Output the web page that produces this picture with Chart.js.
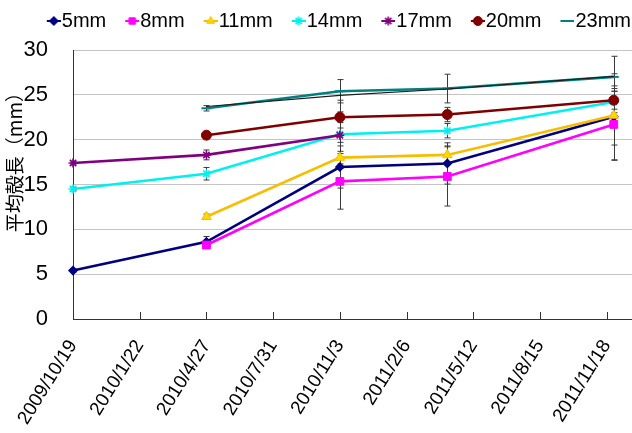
<!DOCTYPE html>
<html>
<head>
<meta charset="utf-8">
<script src="https://cdn.jsdelivr.net/npm/chart.js@4/dist/chart.umd.min.js"></script>
<style>
  html, body { margin: 0; padding: 0; background: #fff; }
  #c { display: block; }
</style>
</head>
<body>
<canvas id="c" width="632" height="433"></canvas>
<script>
// Sampling dates and mean shell length (mm) for each size class
const sampleDates = ['2009/10/19', '2010/4/27', '2010/11/3', '2011/4/5', '2011/11/28'];
const seriesNames = ['5mm', '8mm', '11mm', '14mm', '17mm', '20mm', '23mm'];

const len5mm  = [5.4,  8.6,  16.95, 17.35, 22.55];
const len8mm  = [null, 8.25, 15.35, 15.9,  21.7];
const len11mm = [null, 11.4, 18.0,  18.3,  22.7];
const len14mm = [14.5, 16.2, 20.6,  21.0,  24.2];
const len17mm = [17.4, 18.3, 20.5,  null,  null];
const len20mm = [null, 20.5, 22.5,  22.8,  24.4];
const len23mm = [null, 23.5, 25.4,  25.7,  27.0];
const len23mmTrace = [null, 23.7, 24.95, 25.65, 27.05];

// Standard deviations (half length of the error bars)
const sd5mm  = [0.2,  0.6, 2.35, 2.3, 4.8];
const sd8mm  = [null, 0.4, 3.1,  3.3, 4.0];
const sd11mm = [null, 0.3, 0.7,  1.0, 3.3];
const sd14mm = [0.2,  0.7, 3.8,  0.8, 1.2];
const sd17mm = [0.2,  0.55, 0.8, null, null];
const sd20mm = [null, 0.3, 0.6,  0.8, 1.0];
const sd23mm = [null, 0.3, 1.3,  1.6, 2.3];

// Axis ticks
const xTickLabels = ['2009/10/19', '2010/1/22', '2010/4/27', '2010/7/31', '2010/11/3',
                     '2011/2/6', '2011/5/12', '2011/8/15', '2011/11/18'];
const xAxisEnd = '2011/12/24';
const yTicks = [0, 5, 10, 15, 20, 25, 30];
const yTitle = '平均殻長（mm）';

const DAY = 86400000;
const ORIGIN = (() => { const [y, m, d] = xTickLabels[0].split('/').map(Number); return Date.UTC(y, m - 1, d); })();
function toDays(s) {
  const [y, m, d] = s.split('/').map(Number);
  return Math.round((Date.UTC(y, m - 1, d) - ORIGIN) / DAY);
}
function fmtDays(v) {
  const dt = new Date(ORIGIN + v * DAY);
  return dt.getUTCFullYear() + '/' + (dt.getUTCMonth() + 1) + '/' + dt.getUTCDate();
}
const sampleDays = sampleDates.map(toDays);
function toPoints(vals) {
  return vals.map((v, i) => ({ x: sampleDays[i], y: v }));
}

const lengths = [len5mm, len8mm, len11mm, len14mm, len17mm, len20mm, len23mm];
const sds = [sd5mm, sd8mm, sd11mm, sd14mm, sd17mm, sd20mm, sd23mm];

const styles = [
  { line: '#000080', fill: '#000080', point: 'rectRot',  r: 4,   bw: 1.5 },
  { line: '#FF00FF', fill: '#FF00FF', point: 'rect',     r: 5.5, bw: 1 },
  { line: '#F6BE00', fill: '#FFD800', point: 'triangle', r: 5.5, bw: 1 },
  { line: '#00F0F0', fill: '#00F0F0', point: 'star',     r: 4.5, bw: 1.6 },
  { line: '#800080', fill: '#800080', point: 'star',     r: 4.5, bw: 1.6 },
  { line: '#800000', fill: '#800000', point: 'circle',   r: 5,   bw: 1 },
  { line: '#008080', fill: '#008080', point: 'line',     r: 5,   bw: 2 }
];

const datasets = seriesNames.map((name, i) => ({
  label: name,
  data: toPoints(lengths[i]),
  sd: sds[i],
  borderColor: styles[i].line,
  backgroundColor: styles[i].fill,
  pointBackgroundColor: styles[i].fill,
  pointBorderColor: styles[i].line,
  pointStyle: styles[i].point,
  pointRadius: styles[i].r,
  pointBorderWidth: styles[i].bw,
  borderWidth: 2.6,
  tension: 0,
  clip: false,
  order: 10 - i
}));
datasets.push({
  label: '',
  data: toPoints(len23mmTrace),
  borderColor: '#1a1a1a',
  borderWidth: 1.2,
  pointRadius: 0,
  tension: 0,
  clip: false,
  order: 0
});

// Legend icon: a short line with the series marker on it, at the right end of the image
function legendIcon(st) {
  const c = document.createElement('canvas');
  c.width = 31; c.height = 16;
  const g = c.getContext('2d');
  g.strokeStyle = st.line;
  g.lineWidth = 2;
  g.beginPath(); g.moveTo(17, 8); g.lineTo(31, 8); g.stroke();
  g.fillStyle = st.fill;
  g.strokeStyle = st.line;
  g.lineWidth = st.bw;
  Chart.helpers.drawPoint(g, { pointStyle: st.point, radius: Math.min(st.r, 4.5), borderWidth: st.bw, rotation: 0 }, 24, 8);
  return c;
}
const icons = styles.map(legendIcon);

// Error bars drawn from the scales
const errorBars = {
  id: 'errorBars',
  beforeDatasetsDraw(chart) {
    const { ctx, scales: { x, y } } = chart;
    ctx.save();
    ctx.strokeStyle = '#3a3a3a';
    ctx.lineWidth = 1;
    chart.data.datasets.forEach(ds => {
      if (!ds.sd) return;
      ds.data.forEach((p, i) => {
        const e = ds.sd[i];
        if (p.y == null || !e) return;
        const px = Math.round(x.getPixelForValue(p.x)) + 0.5;
        const top = y.getPixelForValue(p.y + e);
        const bot = y.getPixelForValue(p.y - e);
        ctx.beginPath();
        ctx.moveTo(px, top); ctx.lineTo(px, bot);
        ctx.moveTo(px - 3, top); ctx.lineTo(px + 3, top);
        ctx.moveTo(px - 3, bot); ctx.lineTo(px + 3, bot);
        ctx.stroke();
      });
    });
    ctx.restore();
  }
};

// Inward tick marks on the date axis and the rotated y title
const axisDecor = {
  id: 'axisDecor',
  afterDraw(chart) {
    const { ctx, scales: { x }, chartArea } = chart;
    ctx.save();
    ctx.strokeStyle = '#333';
    ctx.lineWidth = 1;
    x.ticks.forEach((t, i) => {
      if (i === 0) return;
      const px = Math.round(x.getPixelForValue(t.value)) + 0.5;
      ctx.beginPath();
      ctx.moveTo(px, chartArea.bottom);
      ctx.lineTo(px, chartArea.bottom - 7);
      ctx.stroke();
    });
    ctx.translate(15, chartArea.top + (chartArea.bottom - chartArea.top) * 0.4);
    ctx.rotate(-Math.PI / 2);
    ctx.fillStyle = '#000';
    ctx.font = '19px "Noto Sans CJK JP"';
    ctx.textAlign = 'center';
    ctx.textBaseline = 'middle';
    ctx.fillText(yTitle, 0, 0);
    ctx.restore();
  }
};

const legendHeight = {
  id: 'legendHeight',
  beforeLayout(chart) {
    const lg = chart.legend;
    if (lg && !lg._fixedFit) {
      const fit = lg.fit;
      lg.fit = function () { fit.call(this); this.height = 50; };
      lg._fixedFit = true;
    }
  }
};

const sansFont = '"Liberation Sans", Arial';

new Chart(document.getElementById('c'), {
  type: 'line',
  data: { datasets },
  plugins: [errorBars, axisDecor, legendHeight],
  options: {
    responsive: false,
    animation: false,
    devicePixelRatio: 1,
    layout: { padding: { left: 0, top: 0, bottom: 0, right: -10 }, autoPadding: false },
    plugins: {
      tooltip: { enabled: false },
      legend: {
        position: 'top',
        align: 'end',
        labels: {
          usePointStyle: true,
          pointStyleWidth: 13,
          padding: 11,
          color: '#000',
          font: { family: sansFont, size: 20 },
          generateLabels(chart) {
            return seriesNames.map((name, i) => ({
              text: name,
              fillStyle: styles[i].fill,
              strokeStyle: styles[i].line,
              lineWidth: 0,
              pointStyle: icons[i],
              hidden: false,
              datasetIndex: i,
              fontColor: '#000'
            }));
          }
        }
      }
    },
    scales: {
      x: {
        type: 'linear',
        min: 0,
        max: toDays(xAxisEnd),
        afterBuildTicks(scale) {
          scale.ticks = xTickLabels.map(s => ({ value: toDays(s) }));
        },
        afterFit(scale) {
          scale.height = 114;
          scale.paddingLeft = 0;
          scale.paddingRight = 0;
        },
        grid: { display: false },
        border: { display: true, color: '#333', width: 1 },
        ticks: {
          autoSkip: false,
          minRotation: 58,
          maxRotation: 58,
          padding: 9,
          color: '#000',
          font: { family: sansFont, size: 19 },
          callback: (v) => fmtDays(v)
        }
      },
      y: {
        min: 0,
        max: 30,
        afterBuildTicks(scale) {
          scale.ticks = yTicks.map(v => ({ value: v }));
        },
        afterFit(scale) {
          scale.width = 73;
        },
        grid: {
          drawTicks: false,
          color: (c) => (c.tick && c.tick.value === 0 ? 'rgba(0,0,0,0)' : '#c4c4c4'),
          lineWidth: 1
        },
        border: { display: true, color: '#333', width: 1 },
        ticks: {
          padding: 25,
          color: '#000',
          font: { family: sansFont, size: 22 }
        }
      }
    }
  }
});
</script>
</body>
</html>
